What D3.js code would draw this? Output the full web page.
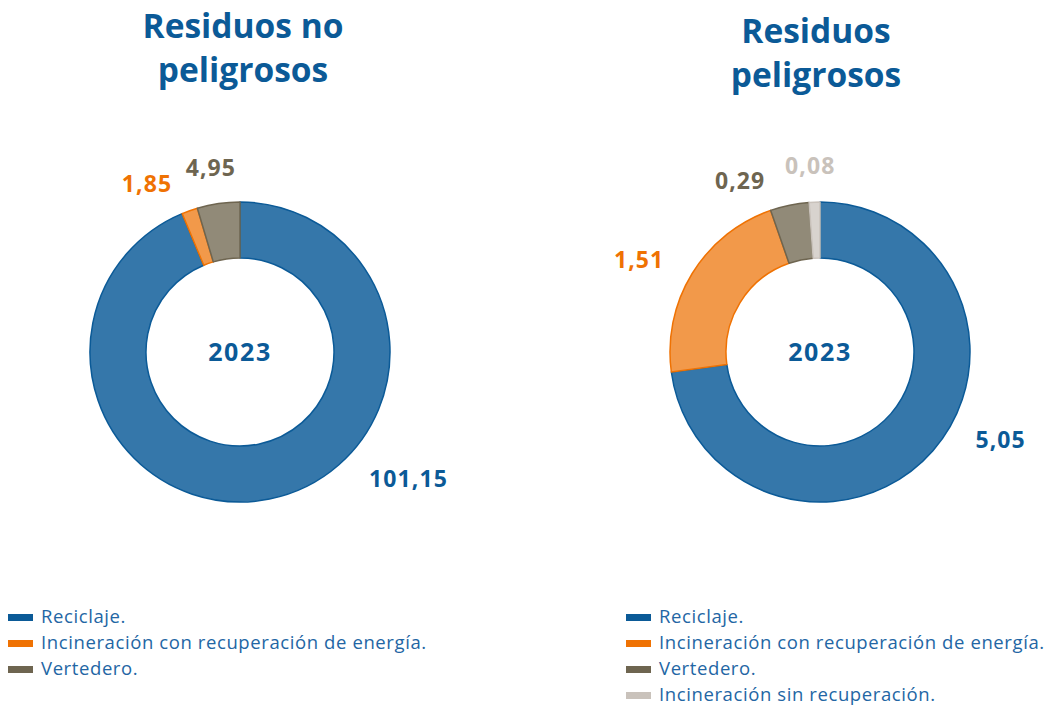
<!DOCTYPE html>
<html>
<head>
<meta charset="utf-8">
<script src="https://cdn.jsdelivr.net/npm/d3@7"></script>
<style>
  html, body { margin: 0; padding: 0; background: #ffffff; }
  svg { display: block; }
  text { font-family: "Open Sans", "Noto Sans", sans-serif; }
</style>
</head>
<body>
<svg id="chart" width="1049" height="707"></svg>
<script>
// Waste treatment in 2023 (toneladas)
const categories = [
  "Reciclaje.",
  "Incineración con recuperación de energía.",
  "Vertedero.",
  "Incineración sin recuperación."
];
const noPeligrosos = [101.15, 1.85, 4.95];
const peligrosos = [5.05, 1.51, 0.29, 0.08];
const titles = [["Residuos no", "peligrosos"], ["Residuos", "peligrosos"]];
const centerLabel = "2023";

// Colours: stroke (solid) and fill (lighter) per category
const strokeColors = ["#0b5a97", "#ef7203", "#6e6550", "#c9c2bb"];
const fillColors   = ["#3577aa", "#f2994a", "#918a78", "#d8d3ce"];
const labelColors  = ["#0b5a97", "#ef7203", "#6e6550", "#c9c2bb"];

// Label placement around each ring: angle (deg, clockwise from top) and radius
const labelPlacement = [
  [{ a: 127, r: 211 }, { a: 331, r: 192 }, { a: 351, r: 186 }],
  [{ a: 116, r: 201 }, { a: 297, r: 203 }, { a: 335, r: 189 }, { a: 357, r: 186 }]
];

const fmt = v => d3.format(",.2f")(v).replace(".", "#").replace(/,/g, ".").replace("#", ",");

const svg = d3.select("#chart");
const outerR = 150, innerR = 94;
const charts = [
  { values: noPeligrosos, cx: 240, cy: 352, titleX: 243, titleY: 38, legendX: 8 },
  { values: peligrosos,   cx: 820, cy: 352, titleX: 816, titleY: 43, legendX: 626 }
];

const pie = d3.pie().sort(null).value(d => d);
const arc = d3.arc().innerRadius(innerR).outerRadius(outerR);

charts.forEach((c, ci) => {
  const g = svg.append("g").attr("transform", `translate(${c.cx},${c.cy})`);
  const arcs = pie(c.values);

  g.selectAll("path.slice")
    .data(arcs)
    .join("path")
    .attr("class", "slice")
    .attr("d", arc)
    .attr("fill", (d, i) => fillColors[i])
    .attr("stroke", (d, i) => strokeColors[i])
    .attr("stroke-width", 1.5)
    .attr("stroke-linejoin", "round");

  g.append("text")
    .attr("text-anchor", "middle")
    .attr("dy", "0.35em")
    .attr("font-size", 25)
    .attr("font-weight", 700)
    .attr("fill", "#0b5a97")
    .attr("letter-spacing", 1.6)
    .text(centerLabel);

  g.selectAll("text.val")
    .data(arcs)
    .join("text")
    .attr("class", "val")
    .attr("text-anchor", "middle")
    .attr("dy", "0.35em")
    .attr("x", (d, i) => labelPlacement[ci][i].r * Math.sin(labelPlacement[ci][i].a * Math.PI / 180))
    .attr("y", (d, i) => -labelPlacement[ci][i].r * Math.cos(labelPlacement[ci][i].a * Math.PI / 180))
    .attr("font-size", 23)
    .attr("font-weight", 700)
    .attr("letter-spacing", 1.1)
    .attr("fill", (d, i) => labelColors[i])
    .text(d => fmt(d.data));

  // Title
  const t = svg.append("text")
    .attr("x", c.titleX)
    .attr("y", c.titleY)
    .attr("text-anchor", "middle")
    .attr("font-size", 33.5)
    .attr("font-weight", 700)
    .attr("fill", "#0b5a97");
  titles[ci].forEach((line, li) => {
    t.append("tspan").attr("x", c.titleX).attr("dy", li === 0 ? 0 : 44).text(line);
  });

  // Legend
  const lg = svg.append("g").attr("transform", `translate(${c.legendX},617)`);
  const items = lg.selectAll("g").data(c.values.map((v, i) => categories[i]))
    .join("g")
    .attr("transform", (d, i) => `translate(0,${i * 26})`);
  items.append("rect")
    .attr("x", 0).attr("y", -3).attr("width", 25).attr("height", 7)
    .attr("fill", (d, i) => strokeColors[i]);
  items.append("text")
    .attr("x", 33).attr("y", 0).attr("dy", "0.35em")
    .attr("font-size", 18.5)
    .attr("letter-spacing", 0.6)
    .attr("fill", "#2366a4")
    .text(d => d);
});
</script>
</body>
</html>
